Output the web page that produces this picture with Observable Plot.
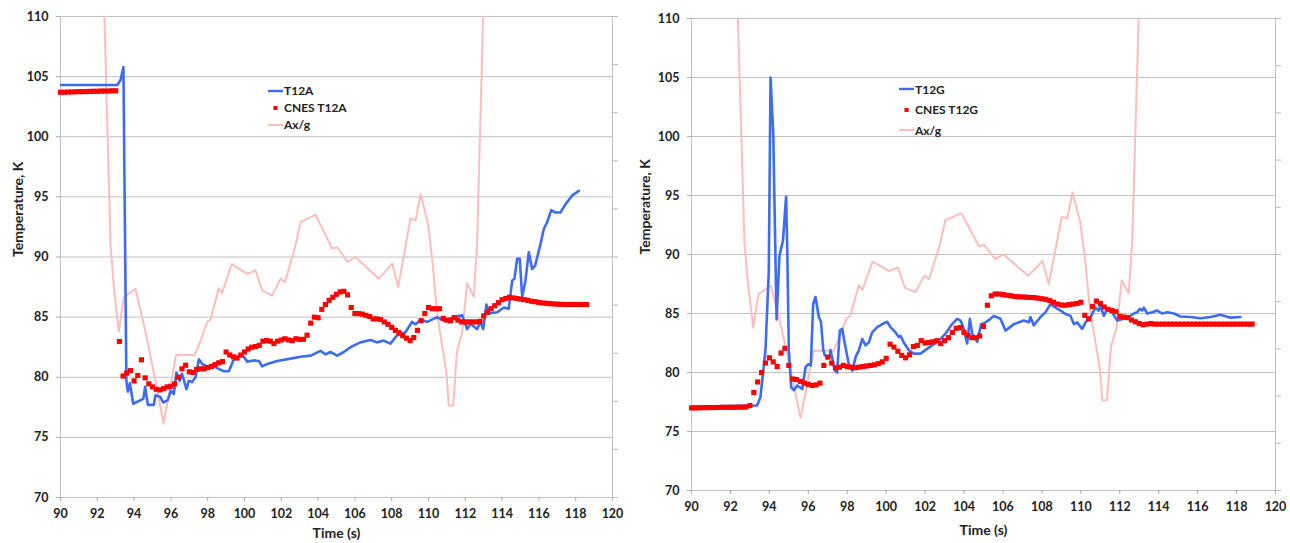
<!DOCTYPE html>
<html><head><meta charset="utf-8">
<script src="https://cdn.jsdelivr.net/npm/d3@7"></script>
<script src="https://cdn.jsdelivr.net/npm/@observablehq/plot@0.6"></script>
<style>
body{margin:0;background:#fff;}
#wrap{position:relative;width:1290px;height:543px;overflow:hidden;background:#fff;}
.panel{position:absolute;top:0;}
.legend{position:absolute;font:bold 12px Lato,"Open Sans",sans-serif;color:#222;}
.legend .row{display:flex;align-items:center;white-space:nowrap;}
.legend svg{display:block;}
.topline{position:absolute;left:630px;top:6px;width:660px;height:0;border-top:1px solid #bdbdbd;}
</style></head><body><div id="wrap"><div class="topline"></div></div>
<script>
// ---- axis ticks ----
const xTicks = [90,92,94,96,98,100,102,104,106,108,110,112,114,116,118,120];
const yTicks = [70,75,80,85,90,95,100,105,110];
const secondaryTicks = [70,74,78,82,86,90,94,98,102,106,110]; // unlabeled right-axis ticks (Ax/g)

// ---- series: T12A (time s, K) ----
const t12a = [[90,104.3],[93.08,104.3],[93.26,104.7],[93.42,105.8],[93.58,79.7],[93.66,78.8],[93.77,79.5],[93.95,77.8],[94.5,78.2],[94.6,79.2],[94.75,77.7],[95.07,77.7],[95.16,78.5],[95.43,78.35],[95.58,77.9],[95.83,78.1],[96.0,78.9],[96.16,78.6],[96.3,80.4],[96.48,79.7],[96.6,80.3],[96.85,79.0],[96.97,79.7],[97.15,79.6],[97.34,80.0],[97.52,81.5],[97.7,81.1],[97.97,80.9],[98.33,80.9],[98.6,80.7],[98.88,80.5],[99.15,80.5],[99.39,81.4],[99.7,81.8],[99.96,81.7],[100.15,81.3],[100.5,81.4],[100.78,81.35],[100.96,80.9],[101.23,81.1],[101.78,81.35],[102.5,81.55],[103.04,81.7],[103.6,81.8],[104.13,82.2],[104.4,81.9],[104.67,82.1],[105.04,81.8],[105.4,82.1],[105.76,82.5],[106.3,82.9],[106.85,83.1],[107.2,82.9],[107.57,83.05],[107.93,82.8],[108.3,83.5],[108.75,83.75],[109.1,84.6],[109.3,84.4],[109.57,84.8],[109.93,84.6],[110.47,85.0],[110.83,84.7],[111.37,85.0],[111.83,85.15],[112.1,84.0],[112.28,84.45],[112.64,84.0],[112.83,84.6],[112.97,84.0],[113.15,86.05],[113.28,85.3],[113.73,85.4],[114.1,85.8],[114.36,85.7],[114.55,88.05],[114.67,88.2],[114.82,89.85],[114.96,89.85],[115.09,86.7],[115.27,88.05],[115.45,90.4],[115.63,89.0],[115.8,89.3],[116.09,91.1],[116.27,92.35],[116.45,92.9],[116.67,93.9],[116.9,93.7],[117.17,93.7],[117.45,94.4],[117.8,95.1],[118.17,95.5]];

// ---- series: T12G (time s, K) ----
const t12g = [[90,77.1],[93.37,77.2],[93.54,77.9],[93.8,81.9],[93.97,88.6],[94.06,105.0],[94.2,100.2],[94.37,84.5],[94.52,89.9],[94.7,91.2],[94.86,94.9],[94.92,90.3],[95.0,81.9],[95.12,78.75],[95.26,78.5],[95.43,78.9],[95.69,78.6],[95.86,80.45],[96.0,80.7],[96.13,80.6],[96.25,85.8],[96.37,86.4],[96.54,84.7],[96.65,84.3],[96.77,81.9],[96.85,81.45],[97.1,81.3],[97.14,81.9],[97.23,81.2],[97.35,80.2],[97.48,80.0],[97.62,83.55],[97.74,83.7],[97.91,82.15],[98.08,80.7],[98.26,80.15],[98.43,81.3],[98.6,81.9],[98.77,82.85],[98.94,82.3],[99.11,82.55],[99.28,83.4],[99.54,83.85],[99.8,84.1],[100.05,84.3],[100.22,83.85],[100.48,83.4],[100.65,83.0],[100.74,83.1],[100.9,82.55],[101.16,81.9],[101.42,81.6],[101.76,81.6],[102.1,82.0],[102.45,82.4],[102.8,82.85],[103.05,83.3],[103.39,84.1],[103.65,84.55],[103.82,84.4],[103.99,83.7],[104.16,82.45],[104.3,84.55],[104.42,83.3],[104.68,82.6],[104.88,84.1],[105.1,84.25],[105.36,84.55],[105.53,84.8],[105.87,84.55],[106.13,83.55],[106.56,84.1],[107.07,84.4],[107.33,84.25],[107.41,84.7],[107.58,84.0],[107.93,84.7],[108.18,85.1],[108.44,85.8],[108.7,85.5],[108.96,85.25],[109.21,84.95],[109.47,84.8],[109.64,84.1],[109.81,84.25],[110.07,83.7],[110.24,84.25],[110.5,84.7],[110.75,85.5],[110.92,85.25],[111.0,85.7],[111.18,84.8],[111.35,85.4],[111.61,85.1],[111.87,84.4],[112.2,84.55],[112.47,84.7],[112.72,85.0],[112.9,85.1],[113.03,85.4],[113.15,85.25],[113.24,85.5],[113.41,85.0],[113.67,85.1],[113.92,85.25],[114.18,85.0],[114.44,85.1],[114.78,85.0],[115.12,84.75],[115.63,84.7],[116.15,84.6],[116.66,84.7],[117.17,84.9],[117.69,84.65],[118.2,84.7]];

// ---- CNES samples, one every 0.2 s from 90 s (K) ----
const cnesStart = 90, cnesStep = 0.2;
const cnesT12A = [103.7,103.7,103.72,103.72,103.74,103.75,103.75,103.76,103.77,103.78,103.78,103.8,103.8,103.8,103.82,103.82,
82.97,80.1,80.35,80.55,79.7, 80.15,81.45,79.95,79.45,79.2, 79.0,78.95,79.05,79.2,79.25, 79.45,80.0,80.7,81.0,80.45,
80.4,80.65,80.7,80.7,80.8, 80.9,81.05,81.2,81.3,82.1, 81.85,81.7,81.6,81.85,82.1, 82.35,82.5,82.55,82.65,83.0,
83.05,83.0,82.8,83.0,83.1, 83.2,83.1,83.05,83.2,83.15, 83.15,83.5,84.5,85.0,84.95, 85.65,86.05,86.4,86.65,86.9,
87.1,87.15,86.85,85.8,85.3, 85.3,85.25,85.15,85.05,84.85, 84.85,84.8,84.6,84.4,84.15, 83.9,83.7,83.45,83.25,83.05,
83.3,83.9,84.7,85.3,85.8, 85.7,85.7,85.7,84.9,84.75, 84.7,84.95,84.75,84.6,84.6, 84.6,84.6,84.6,84.65,85.1,
85.4,85.7,85.95,86.2,86.45, 86.55,86.65,86.6,86.55,86.5, 86.45,86.4,86.32,86.28,86.22, 86.18,86.15,86.12,86.1,86.08,
86.06,86.05,86.05,86.05,86.05,86.05,86.05,86.05];
const cnesT12G = [77.0,77.0,77.0,77.02,77.02,77.03,77.03,77.04,77.05,77.05,77.05,77.05,77.06,77.06,77.07,
77.2,78.3,79.2,80.0,80.8, 81.25,80.9,80.5,81.65,82.05, 80.6,79.45,79.4,79.25,79.1, 79.0,78.9,78.95,79.1,80.6,
81.3,80.8,80.4,80.45,80.6, 80.5,80.45,80.4,80.45,80.5, 80.55,80.6,80.65,80.75,80.9, 81.2,82.4,82.15,81.8,81.45,
81.25,81.5,82.2,82.3,82.7, 82.5,82.55,82.6,82.7,82.45, 82.7,82.95,83.4,83.75,83.8, 83.4,83.15,82.95,82.95,83.1,
83.9,85.7,86.5,86.65,86.65, 86.6,86.55,86.5,86.45,86.42, 86.4,86.38,86.36,86.35,86.3, 86.25,86.2,86.1,85.95,85.8,
85.72,85.7,85.75,85.8,85.85, 85.95,84.85,84.55,85.6,86.05, 85.85,85.55,85.35,85.25,85.15, 84.75,84.7,84.65,84.45,84.3,
84.15,84.05,84.1,84.15,84.1,
84.1,84.1,84.1,84.1,84.1,84.1,84.1,84.1,84.1,84.1,84.1,84.1,84.1,84.1,84.1,84.1,84.1,84.1,84.1,84.1,84.1,84.1,84.1,84.1,84.1];

// ---- Ax/g (secondary axis), given on the temperature scale positions (time s, K-equivalent) ----
const axg = [[92.35,112],[92.72,91.0],[92.9,87.5],[93.17,83.8],[93.44,86.65],[94.08,87.35],[94.6,83.9],[95.16,79.7],[95.6,76.15],[96.28,81.85],[97.3,81.85],[97.6,83.0],[97.97,84.6],[98.15,84.8],[98.6,87.4],[98.78,87.0],[99.3,89.4],[100.15,88.6],[100.6,88.9],[100.96,87.2],[101.5,86.8],[101.96,88.2],[102.2,87.9],[102.75,90.8],[103.04,92.9],[103.86,93.5],[104.77,90.7],[105.04,90.8],[105.6,89.6],[106.03,90.0],[107.3,88.2],[108.03,89.45],[108.35,87.5],[109.02,93.2],[109.3,93.05],[109.57,95.25],[109.97,92.75],[110.2,89.85],[110.47,85.3],[110.98,80.3],[111.1,77.65],[111.34,77.65],[111.55,82.2],[111.83,83.75],[112.1,87.8],[112.46,86.7],[112.64,91.1],[112.97,110],[113.05,112]];

const xLabel = "Time (s)", yLabel = "Temperature, K";
const blueColor = "#3d6cf2", redColor = "#ff0000", pinkColor = "#ffbdbd", gridColor = "#c0c0c0";
const FONT = "Lato, 'Open Sans', sans-serif";

function cnesRows(vals){ return vals.map((v,i)=>({t: cnesStart + i*cnesStep, v})); }
function pairRows(arr){ return arr.map(([t,v])=>({t,v})); }

function makePanel(o){
  return Plot.plot({
    width:o.width, height:543,
    marginLeft:o.ml, marginRight:o.mr, marginTop:o.mt, marginBottom:o.mb,
    style:{fontFamily:FONT, fontWeight:"bold", fontSize:"12px", color:"#222", background:"white", overflow:"visible"},
    x:{domain:[90,120]},
    y:{domain:[70,110]},
    marks:[
      Plot.gridY(yTicks, {stroke:gridColor, strokeOpacity:1}),
      Plot.frame({stroke:gridColor}),
      Plot.axisY(yTicks, {anchor:"left", tickSize:4, tickPadding:8, stroke:"#aaa", fill:"#222", fontSize:12.5, label:null}),
      Plot.axisY(secondaryTicks, {anchor:"right", tickSize:5, stroke:"#bbb", tickFormat:()=>"", label:null}),
      Plot.axisX(xTicks, {anchor:"bottom", tickSize:4, tickPadding:8, stroke:"#aaa", fill:"#222", fontSize:12.5, label:null}),
      Plot.text([xLabel], {frameAnchor:"bottom", dy:o.xdy, fontSize:14, fontWeight:"bold", fill:"#222", lineAnchor:"middle"}),
      Plot.text([yLabel], {frameAnchor:"left", dx:o.ydx, rotate:-90, fontSize:14, fontWeight:"bold", fill:"#222", lineAnchor:"middle"}),
      Plot.line(pairRows(axg), {x:"t", y:"v", stroke:pinkColor, strokeWidth:2, clip:true}),
      Plot.line(pairRows(o.blue), {x:"t", y:"v", stroke:blueColor, strokeWidth:2.6, clip:true}),
      Plot.dot(cnesRows(o.cnes), {x:"t", y:"v", symbol:"square", r:2.9, fill:redColor, stroke:null})
    ]
  });
}

function legend(names, left, top, gap){
  const div = document.createElement("div");
  div.className = "legend";
  div.style.left = left+"px"; div.style.top = top+"px";
  const kinds = ["line","dot","pink"];
  names.forEach((n,i)=>{
    const row = document.createElement("div");
    row.className = "row"; row.style.height = gap+"px";
    let sw;
    if(kinds[i]==="line") sw = `<svg width="15" height="6"><line x1="0" y1="3" x2="15" y2="3" stroke="${blueColor}" stroke-width="2.4"/></svg>`;
    else if(kinds[i]==="dot") sw = `<svg width="15" height="6"><rect x="5.5" y="1" width="4" height="4" fill="${redColor}"/></svg>`;
    else sw = `<svg width="15" height="6"><line x1="0" y1="3" x2="15" y2="3" stroke="${pinkColor}" stroke-width="2"/></svg>`;
    row.innerHTML = sw + `<span style="margin-left:1px">${n}</span>`;
    div.appendChild(row);
  });
  return div;
}

const wrap = document.getElementById("wrap");
const left = makePanel({width:625, ml:60, mr:13, mt:16, mb:46, xdy:36, ydx:-42, blue:t12a, cnes:cnesT12A});
left.classList.add("panel"); left.style.left = "0px";
wrap.appendChild(left);
const right = makePanel({width:660, ml:61, mr:15, mt:18, mb:53, xdy:40, ydx:-46, blue:t12g, cnes:cnesT12G});
right.classList.add("panel"); right.style.left = "630px";
wrap.appendChild(right);
wrap.appendChild(legend(["T12A","CNES T12A","Ax/g"], 268, 82, 17));
wrap.appendChild(legend(["T12G","CNES T12G","Ax/g"], 899, 79, 20.5));
</script>
</body></html>
